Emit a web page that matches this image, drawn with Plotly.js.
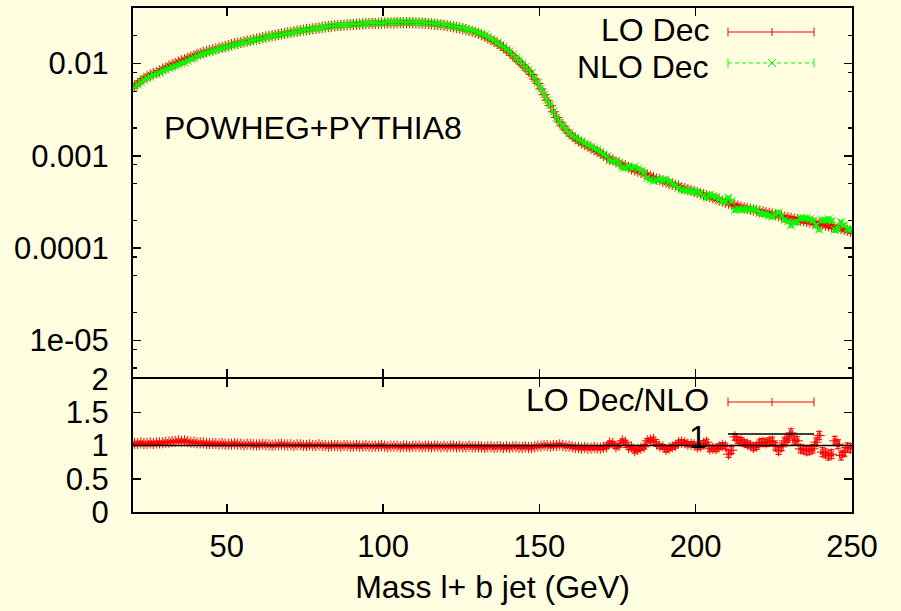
<!DOCTYPE html>
<html>
<head>
<meta charset="utf-8">
<script src="https://cdn.plot.ly/plotly-3.0.1.min.js"></script>
<style>html,body{margin:0;padding:0;background:#fffee0;}#chart{width:901px;height:611px;}</style>
</head>
<body>
<div id="chart"></div>
<script>
// ---------------- DATA ----------------
const MASS_MIN = 20;      // GeV, lower edge of first bin
const MASS_MAX = 250;     // GeV, upper edge of last bin
const BIN_WIDTH = 1;      // GeV

// LO Dec distribution, one value per 1 GeV bin (20.5 ... 249.5)
const loDec = [
0.0057,0.0061,0.0065,0.0069,0.0072,0.0075,0.0078,0.0080,0.0083,0.0087,
0.0090,0.0094,0.0097,0.0100,0.0104,0.0107,0.0110,0.0114,0.0118,0.0121,
0.0126,0.0129,0.0132,0.0135,0.0138,0.0141,0.0144,0.0147,0.0150,0.0153,
0.0156,0.0160,0.0164,0.0166,0.0169,0.0172,0.0175,0.0178,0.0181,0.0184,
0.0187,0.0191,0.0194,0.0197,0.0200,0.0203,0.0206,0.0209,0.0212,0.0215,
0.0218,0.0221,0.0224,0.0227,0.0230,0.0233,0.0235,0.0238,0.0241,0.0243,
0.0246,0.0249,0.0251,0.0254,0.0256,0.0258,0.0259,0.0261,0.0262,0.0264,
0.0265,0.0266,0.0268,0.0269,0.0270,0.0271,0.0272,0.0272,0.0273,0.0274,
0.0275,0.0275,0.0276,0.0276,0.0277,0.0277,0.0277,0.0277,0.0277,0.0276,
0.0276,0.0275,0.0274,0.0273,0.0271,0.0269,0.0267,0.0265,0.0263,0.0260,
0.0257,0.0254,0.0250,0.0246,0.0242,0.0238,0.0233,0.0228,0.0223,0.0218,
0.0212,0.0205,0.0197,0.0189,0.0181,0.0173,0.0165,0.0157,0.0148,0.0139,
0.0131,0.0122,0.0113,0.0105,0.0097,0.0090,0.0083,0.0076,0.0068,0.0061,
0.0053,0.0046,0.0040,0.0035,0.0030,0.0026,0.00232,0.00210,0.00191,0.00176,
0.00163,0.00153,0.00145,0.00138,0.00132,0.00127,0.00121,0.00116,0.00111,0.00106,
0.00101,0.00097,0.00093,0.00090,0.00086,0.00083,0.00080,0.00078,0.00075,0.00072,
0.00070,0.00068,0.00066,0.00064,0.00062,0.00060,0.00058,0.00056,0.00055,0.00053,
0.00052,0.00050,0.00049,0.00048,0.00047,0.00045,0.00044,0.00043,0.00042,0.00041,
0.00040,0.00039,0.00038,0.000370,0.000360,0.000350,0.000340,0.000330,0.000322,0.000314,
0.000306,0.000298,0.000291,0.000285,0.000279,0.000273,0.000268,0.000263,0.000258,0.000254,
0.000250,0.000246,0.000242,0.000238,0.000234,0.000229,0.000224,0.000219,0.000216,0.000213,
0.000210,0.000206,0.000203,0.000200,0.000197,0.000194,0.000191,0.000188,0.000185,0.000183,
0.000180,0.000177,0.000174,0.000171,0.000168,0.000165,0.000162,0.000159,0.000156,0.000152
];

// NLO Dec distribution, same bins
const nloDec = [
0.00553,0.00592,0.00625,0.00670,0.00699,0.00721,0.00757,0.00769,0.00798,0.00837,
0.00857,0.00895,0.00915,0.00943,0.00972,0.01009,0.01028,0.01075,0.01124,0.01152,
0.01212,0.01240,0.01269,0.01311,0.01340,0.01369,0.01398,0.01441,0.01456,0.01500,
0.01529,0.01569,0.01592,0.01627,0.01657,0.01703,0.01716,0.01745,0.01792,0.01822,
0.01851,0.01873,0.01921,0.01950,0.02000,0.02010,0.02040,0.02049,0.02099,0.02129,
0.02158,0.02210,0.02218,0.02248,0.02300,0.02330,0.02327,0.02380,0.02410,0.02406,
0.02460,0.02490,0.02535,0.02540,0.02560,0.02580,0.02616,0.02610,0.02620,0.02667,
0.02677,0.02660,0.02707,0.02717,0.02700,0.02737,0.02747,0.02747,0.02758,0.02740,
0.02778,0.02806,0.02788,0.02788,0.02798,0.02827,0.02798,0.02798,0.02827,0.02788,
0.02788,0.02778,0.02796,0.02758,0.02737,0.02745,0.02697,0.02677,0.02684,0.02626,
0.02622,0.02566,0.02525,0.02510,0.02444,0.02429,0.02378,0.02303,0.02276,0.02224,
0.02163,0.02092,0.02031,0.01929,0.01847,0.01784,0.01684,0.01602,0.01526,0.01418,
0.01351,0.01245,0.01153,0.01082,0.01000,0.00918,0.00856,0.00784,0.00694,0.00616,
0.00535,0.00460,0.00400,0.00354,0.00300,0.00260,0.00230,0.00210,0.00193,0.00178,
0.00166,0.00158,0.00149,0.00144,0.00136,0.00132,0.00126,0.00120,0.00116,0.00110,
0.00104,0.00099,0.000894,0.000874,0.000878,0.000830,0.000748,0.000743,0.000773,0.000735,
0.000761,0.000723,0.000688,0.000653,0.000579,0.000556,0.000532,0.000549,0.000556,0.000541,
0.000553,0.000521,0.000500,0.000480,0.000452,0.000429,0.000423,0.000422,0.000412,0.000406,
0.000408,0.000394,0.000369,0.000352,0.000379,0.000365,0.000358,0.000337,0.000322,0.000317,
0.000352,0.000320,0.000258,0.000264,0.000261,0.000263,0.000263,0.000263,0.000266,0.000257,
0.000240,0.000234,0.000233,0.000225,0.000219,0.000231,0.000243,0.000223,0.000202,0.000194,
0.000176,0.000191,0.000190,0.000211,0.000210,0.000211,0.000205,0.000198,0.000176,0.000159,
0.000200,0.000201,0.000205,0.000197,0.000157,0.000162,0.000191,0.000177,0.000161,0.000158
];

// Ratio LO Dec / NLO, same bins
const ratioLoNlo = [
1.03,1.03,1.04,1.03,1.03,1.04,1.03,1.04,1.04,1.04,
1.05,1.05,1.06,1.06,1.07,1.06,1.07,1.06,1.05,1.05,
1.04,1.04,1.04,1.03,1.03,1.03,1.03,1.02,1.03,1.02,
1.02,1.02,1.03,1.02,1.02,1.01,1.02,1.02,1.01,1.01,
1.01,1.02,1.01,1.01,1.00,1.01,1.01,1.02,1.01,1.01,
1.01,1.00,1.01,1.01,1.00,1.00,1.01,1.00,1.00,1.01,
1.00,1.00,0.99,1.00,1.00,1.00,0.99,1.00,1.00,0.99,
0.99,1.00,0.99,0.99,1.00,0.99,0.99,0.99,0.99,1.00,
0.99,0.98,0.99,0.99,0.99,0.98,0.99,0.99,0.98,0.99,
0.99,0.99,0.98,0.99,0.99,0.98,0.99,0.99,0.98,0.99,
0.98,0.99,0.99,0.98,0.99,0.98,0.98,0.99,0.98,0.98,
0.98,0.98,0.97,0.98,0.98,0.97,0.98,0.98,0.97,0.98,
0.97,0.98,0.98,0.97,0.97,0.98,0.97,0.97,0.98,0.99,
0.99,1.00,1.00,0.99,1.00,1.00,1.01,1.00,0.99,0.99,
0.98,0.97,0.97,0.96,0.97,0.96,0.96,0.97,0.96,0.96,
0.97,0.98,1.04,1.03,0.98,1.00,1.07,1.05,0.97,0.98,
0.92,0.94,0.96,0.98,1.07,1.08,1.09,1.02,0.99,0.98,
0.94,0.96,0.98,1.00,1.04,1.05,1.04,1.02,1.02,1.01,
0.98,0.99,1.03,1.05,0.95,0.96,0.95,0.98,1.00,0.99,
0.87,0.93,1.13,1.08,1.07,1.04,1.02,1.00,0.97,0.99,
1.04,1.05,1.04,1.06,1.07,0.99,0.92,0.98,1.07,1.10,
1.19,1.08,1.07,0.95,0.94,0.92,0.93,0.95,1.05,1.15,
0.90,0.88,0.85,0.87,1.07,1.02,0.85,0.90,0.97,0.96
];

// relative statistical errors of the distributions, per 10 GeV block
const relErrBlocks = [0.012,0.010,0.008,0.007,0.006,0.006,0.006,0.006,0.006,0.006,0.006,0.007,
                      0.008,0.012,0.016,0.020,0.024,0.028,0.032,0.036,0.040,0.044,0.048];
// absolute errors of the ratio, per 10 GeV block
const ratioErrBlocks = [0.017,0.014,0.012,0.011,0.010,0.010,0.010,0.010,0.010,0.010,0.010,0.011,
                        0.012,0.017,0.022,0.028,0.034,0.040,0.045,0.050,0.056,0.062,0.068];

// tick labels
const xTickVals = [50,100,150,200,250];
const yTopTickVals = [1e-5,1e-4,1e-3,1e-2];
const yTopTickText = ['1e-05','0.0001','0.001','0.01'];
const yTopMinorVals = [5e-6,8e-6,2e-5,5e-5,8e-5,2e-4,5e-4,8e-4,2e-3,5e-3,8e-3,2e-2];
const yBotTickVals = [0,0.5,1,1.5,2];
const yBotTickText = ['0','0.5','1','1.5','2'];
const unityLine = [1,1];

// ---------------- build ----------------
const massCentres = loDec.map((_, i) => MASS_MIN + BIN_WIDTH * (i + 0.5));
const blockOf = i => Math.floor((massCentres[i] - MASS_MIN) / 10);
const loErr = loDec.map((v, i) => v * relErrBlocks[blockOf(i)]);
const nloErr = nloDec.map((v, i) => v * relErrBlocks[blockOf(i)]);
const ratioErr = ratioLoNlo.map((v, i) => ratioErrBlocks[blockOf(i)]);

const RED = '#ff0000', GREEN = '#00ff00', BG = '#fffee0';
const FONT = '"Liberation Sans", Arial, Helvetica, sans-serif';

const traces = [
  { x: massCentres, y: loDec, xaxis: 'x2', yaxis: 'y2', type: 'scatter', mode: 'markers',
    marker: { symbol: 'cross-thin-open', size: 8, color: RED, line: { color: RED, width: 1 } },
    error_x: { type: 'constant', value: BIN_WIDTH / 2, color: RED, thickness: 1, width: 3 },
    error_y: { type: 'data', array: loErr, color: RED, thickness: 1, width: 3 },
    showlegend: false, hoverinfo: 'skip' },
  { x: massCentres, y: nloDec, xaxis: 'x2', yaxis: 'y2', type: 'scatter', mode: 'markers',
    marker: { symbol: 'x-thin-open', size: 8, color: GREEN, line: { color: GREEN, width: 1 } },
    error_x: { type: 'constant', value: BIN_WIDTH / 2, color: GREEN, thickness: 1, width: 3 },
    error_y: { type: 'data', array: nloErr, color: GREEN, thickness: 1, width: 3 },
    showlegend: false, hoverinfo: 'skip' },
  { x: massCentres, y: ratioLoNlo, xaxis: 'x', yaxis: 'y', type: 'scatter', mode: 'markers',
    marker: { symbol: 'cross-thin-open', size: 8, color: RED, line: { color: RED, width: 1 } },
    error_x: { type: 'constant', value: BIN_WIDTH / 2, color: RED, thickness: 1, width: 3 },
    error_y: { type: 'data', array: ratioErr, color: RED, thickness: 1, width: 3 },
    showlegend: false, hoverinfo: 'skip' },
  { x: [MASS_MIN, MASS_MAX], y: unityLine, xaxis: 'x', yaxis: 'y', type: 'scatter', mode: 'lines',
    line: { color: '#000000', width: 1.5 }, showlegend: false, hoverinfo: 'skip' }
];

// pixel -> paper helpers for decorations
const L = 133, R = 852, T = 8, B = 512;
const px = x => (x - L) / (R - L);
const py = y => (B - y) / (B - T);
const topPanelBottom = py(377);   // top panel area ends just above the shared 2px frame line
const botPanelTop = py(379);      // bottom panel area starts just below it

function seg(x0, y0, x1, y1, color, width, dash) {
  return { type: 'line', xref: 'paper', yref: 'paper', x0: px(x0), y0: py(y0), x1: px(x1), y1: py(y1),
           line: { color: color, width: width, dash: dash || 'solid' }, layer: 'above' };
}
function errSample(y, color, dash) {
  return [seg(728, y, 814, y, color, 1, dash), seg(728, y - 4.5, 728, y + 4.5, color, 1),
          seg(814, y - 4.5, 814, y + 4.5, color, 1)];
}
const shapes = [].concat(
  errSample(32, RED), [seg(772, 28, 772, 36, RED, 1)],
  errSample(63, GREEN, '4px,3px'), [seg(768, 59, 776, 67, GREEN, 1), seg(768, 67, 776, 59, GREEN, 1)],
  errSample(402, RED), [seg(772, 398, 772, 406, RED, 1)],
  [seg(728, 434, 814, 434, '#000000', 1.5)]
);

function label(text, x, y, anchor) {
  return { text: text, xref: 'paper', yref: 'paper', x: px(x), y: py(y), xanchor: anchor, yanchor: 'middle',
           showarrow: false, font: { family: FONT, size: 32, color: '#000000' } };
}
const annotations = [
  label('POWHEG+PYTHIA8', 162, 128, 'left'),
  label('LO Dec', 711, 30, 'right'),
  label('NLO Dec', 711, 67, 'right'),
  label('LO Dec/NLO', 711, 400, 'right'),
  label('1', 709, 437, 'right')
];

const axisCommon = {
  showline: true, linecolor: '#000000', linewidth: 2, mirror: 'allticks',
  ticks: 'inside', ticklen: 8, tickwidth: 1.5, tickcolor: '#000000',
  showgrid: false, zeroline: false,
  tickfont: { family: FONT, size: 31, color: '#000000' }
};

const layout = {
  width: 901, height: 611,
  paper_bgcolor: BG, plot_bgcolor: BG,
  margin: { l: L, r: 901 - R, t: T, b: 611 - B, pad: 0 },
  showlegend: false,
  font: { family: FONT, size: 31, color: '#000000' },
  xaxis: Object.assign({}, axisCommon, {
    anchor: 'y', domain: [0, 1], range: [MASS_MIN, MASS_MAX],
    tickmode: 'array', tickvals: xTickVals, ticklabelstandoff: 6,
    title: { text: 'Mass l+ b jet (GeV)', font: { family: FONT, size: 32, color: '#000000' }, standoff: 12 }
  }),
  xaxis2: Object.assign({}, axisCommon, {
    anchor: 'y2', matches: 'x', range: [MASS_MIN, MASS_MAX],
    tickmode: 'array', tickvals: xTickVals, showticklabels: false
  }),
  yaxis: Object.assign({}, axisCommon, {
    anchor: 'x', domain: [0, botPanelTop], range: [0, 2],
    tickmode: 'array', tickvals: yBotTickVals, ticktext: yBotTickText, ticklabelstandoff: 16
  }),
  yaxis2: Object.assign({}, axisCommon, {
    anchor: 'x2', domain: [topPanelBottom, 1], type: 'log', range: [Math.log10(4e-6), Math.log10(0.04)],
    tickmode: 'array', tickvals: yTopTickVals, ticktext: yTopTickText, ticklabelstandoff: 16,
    minor: { tickmode: 'array', tickvals: yTopMinorVals, ticks: 'inside', ticklen: 4, tickwidth: 1.2, tickcolor: '#000000', showgrid: false }
  }),
  shapes: shapes,
  annotations: annotations
};

Plotly.newPlot('chart', traces, layout, { staticPlot: true, displayModeBar: false });
</script>
</body>
</html>
